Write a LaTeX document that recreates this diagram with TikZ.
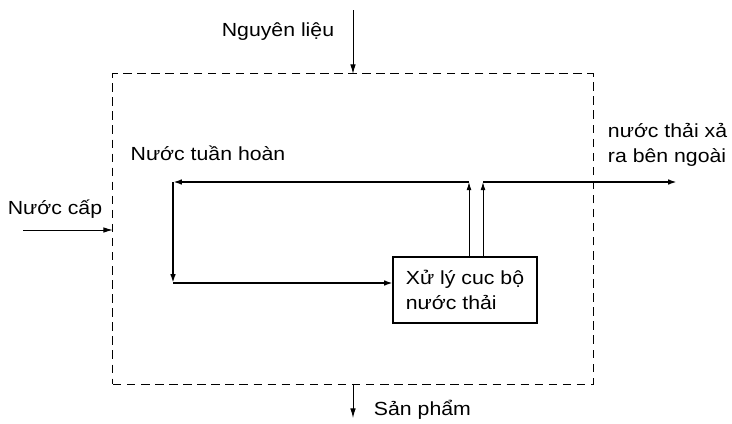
\documentclass[tikz,border=0pt]{standalone}
\usepackage{fontspec}
\setmainfont{Liberation Sans}[FakeStretch=1.12]
\usetikzlibrary{arrows.meta,positioning}

\begin{document}
\begin{tikzpicture}[
    x=0.025cm, y=-0.025cm,
    font=\fontsize{13.5}{17.8}\selectfont,
    plantbox/.style={draw, dash pattern=on 6pt off 4pt, line width=0.7pt, minimum width=12cm, minimum height=7.75cm, inner sep=0pt, outer sep=0pt},
    box/.style={draw, line width=0.9pt, align=left, minimum width=3.6cm, minimum height=1.65cm, inner sep=0pt, outer sep=0pt},
    flow/.style={-{Latex[length=2.2mm,width=1.4mm]}, line width=1.3pt},
    feed/.style={-{Latex[length=2.4mm,width=1.4mm]}, line width=0.7pt},
    pipe/.style={-{Latex[length=2mm,width=1.2mm]}, line width=0.7pt}
  ]
  \useasboundingbox (0,0) rectangle (732,423);
  \node[plantbox] (plant) at (353,229) {};
  \node[box] (treat) at (465,290) {Xử lý cuc bộ\\nước thải};

  \coordinate (jL) at (469,182);
  \coordinate (jR) at (483,182);
  \coordinate (loopTL) at (173,182);
  \coordinate (loopBL) at (173,283);
  \coordinate (drain) at (677,182);
  \coordinate (feedIn) at (353,10);
  \coordinate (supply) at (23,230);
  \coordinate (productOut) at (353,418);

  % inputs and outputs of the plant
  \draw[feed] (feedIn) -- (plant.north);
  \draw[feed] (supply) -- (supply -| plant.west);
  \draw[feed] (plant.south) -- (productOut);

  % local treatment and recycle loop
  \draw[pipe] (treat.north -| jL) -- (jL);
  \draw[pipe] (treat.north -| jR) -- (jR);
  \draw[flow] (jL) -- (loopTL);
  \draw[flow] (loopTL) -- (loopBL);
  \draw[flow] (loopBL) -- (loopBL -| treat.west);
  \draw[flow] (jR) -- (drain);

  \node (feedlabel) at (278,32) {Nguyên liệu};
  \node (supplylabel) at (55,209) {Nước cấp};
  \node (recyclelabel) at (208,153) {Nước tuần hoàn};
  \node[align=left, anchor=west] (drainlabel) at (603,145) {nước thải xả\\ra bên ngoài};
  \node[anchor=west] (productlabel) at (369,410) {Sản phẩm};
\end{tikzpicture}
\end{document}
